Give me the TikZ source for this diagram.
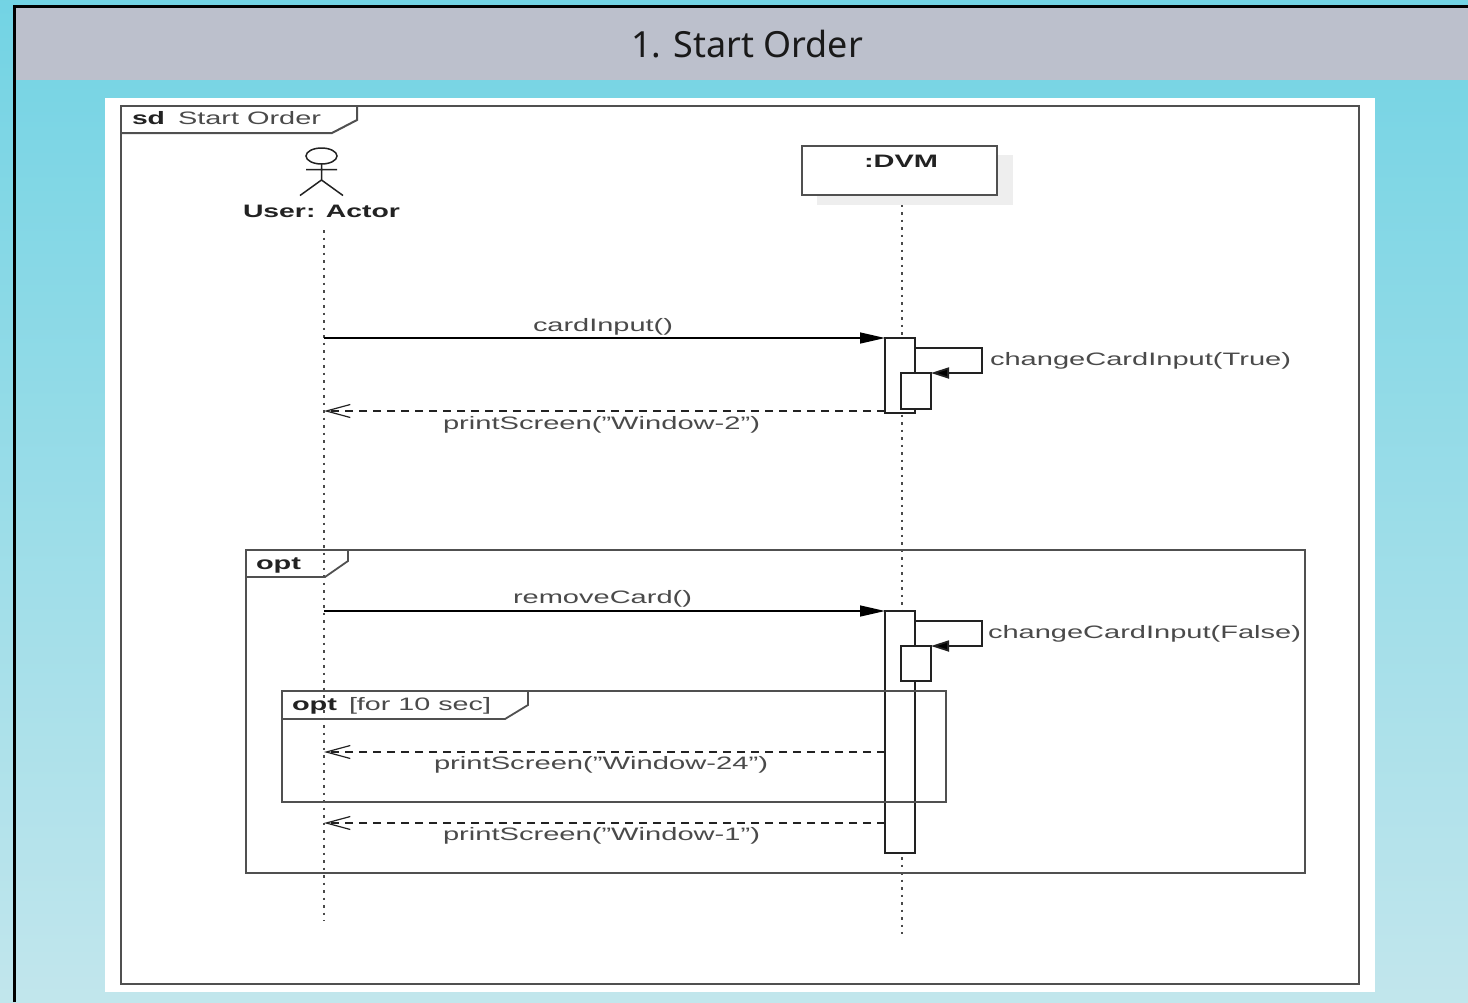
\documentclass[tikz,border=0pt]{standalone}
\usepackage{graphicx}
\usepackage{fontspec}
\setmainfont{Liberation Sans}
\newfontfamily\titlefont{Noto Sans}
\usetikzlibrary{arrows.meta}
\definecolor{bgtop}{HTML}{4BCADF}
\definecolor{bgbot}{HTML}{E9EFF1}
\definecolor{hdr}{HTML}{BCC0CC}
\definecolor{ink}{HTML}{4A4A4A}
\definecolor{inkd}{HTML}{222222}
\definecolor{fr}{HTML}{505050}
\definecolor{shad}{HTML}{EEEEEE}
\pgfdeclareverticalshading{bgramp}{100bp}{color(0bp)=(bgbot); color(100bp)=(bgtop)}
\newcommand\fitw[2]{\resizebox{#1pt}{\height}{#2}}
\newcommand\lbl{\fontsize{18}{20}\selectfont\color{ink}}
\newcommand\lblb{\fontsize{18}{20}\selectfont\bfseries\color{inkd}}
\tikzset{
  txt/.style={anchor=base west,inner sep=0pt,outer sep=0pt},
  box/.style={draw=fr,line width=#1,anchor=north west,inner sep=0pt,outer sep=0pt,fill=none},
  act/.style={draw=inkd,line width=1.8pt,fill=white,anchor=north west,inner sep=0pt,outer sep=0pt},
  life/.style={draw=ink,line width=2.6pt,dash pattern=on 2.6pt off 4.9pt},
  sync/.style={draw=black,line width=1.4pt,-{Triangle[length=25pt,width=11pt,fill=black]}},
  selfc/.style={draw=inkd,line width=1.8pt,-{Triangle[length=18pt,width=11pt,fill=black]}},
  ret/.style={draw=inkd,line width=1.4pt,dash pattern=on 8pt off 6pt,-{Straight Barb[length=24pt,width=13pt,line width=1.2pt,sep=0pt]}},
}
\begin{document}
\begin{tikzpicture}[x=1pt,y=-1pt]
\useasboundingbox (0,0) rectangle (1468,1002);
% slide background
\path[shading=bgramp,shading angle=0] (0,0) rectangle (1468,1002);
\fill[hdr] (15,7) rectangle (1468,80);
\draw[black,line width=3pt] (14.5,1002) -- (14.5,6.5) -- (1468,6.5);
\node[txt,text=black!90] (title) at (631,57) {\fitw{232}{\fontsize{36}{40}\selectfont\titlefont\bfseries 1. Start Order}};
% white sheet
\fill[white] (105,98) rectangle (1375,992);
% lifelines
\node[draw=none,inner sep=0pt,anchor=center] (actorhead) at (321.5,156) {};
\coordinate (uTop) at (324,230);
\coordinate (uEnd) at (324,921);
\coordinate (dTop) at (902,197);
\coordinate (dEnd) at (902,934);
\draw[life] (uTop) -- (uEnd);
\draw[life] (dTop) -- (dEnd);
% outer frame
\node[box=2.2pt,minimum width=1238pt,minimum height=878pt] (sd) at (121,106) {};
\draw[draw=fr,line width=2pt] (357,106) -- (357,120) -- (332,133) -- (121,133);
\node[txt] (sdk) at (132,124) {\fitw{33}{\lblb sd}};
\node[txt] (sdn) at (178,124) {\fitw{143}{\lbl Start Order}};
% actor
\draw[draw=inkd,line width=1.5pt] (321.5,156) ellipse [x radius=15.5pt,y radius=8pt];
\draw[draw=inkd,line width=1.5pt] (321.5,164) -- (321.5,180) (306,169.5) -- (337,169.5) (300,195.5) -- (321.5,180) -- (343,195.5);
\node[txt] (actor) at (243,217) {\fitw{157}{\lblb User: Actor}};
% DVM box
\fill[shad] (817,155) rectangle (1013,205);
\node[draw=fr,line width=1.8pt,fill=white,anchor=north west,inner sep=0pt,outer sep=0pt,minimum width=195pt,minimum height=49pt] (dvm) at (802,146) {};
\node[txt] (dvml) at (864,167) {\fitw{74}{\lblb :DVM}};
% opt frames
\node[box=1.8pt,minimum width=1059pt,minimum height=323pt] (opt1) at (246,550) {};
\draw[draw=fr,line width=1.8pt] (348,550) -- (348,561) -- (325,577) -- (246,577);
\node[txt] (opt1l) at (256,569) {\fitw{45}{\lblb opt}};
% activations, first block
\node[act,minimum width=30pt,minimum height=75pt] (a1) at (885,338) {};
\node[act,minimum width=30pt,minimum height=36pt] (b1) at (901,373) {};
\coordinate (u1) at (324,338);
\coordinate (u2) at (324,411);
\coordinate (l1a) at (915,348);
\coordinate (l1b) at (982,348);
\coordinate (l1c) at (982,373);
\coordinate (a1r) at (885,411);
\draw[sync] (u1) -- (a1.north west);
\draw[selfc] (l1a) -- (l1b) -- (l1c) -- (b1.north east);
\draw[ret] (a1r) -- (u2);
\node[txt] (m1) at (533,331) {\fitw{140}{\lbl cardInput()}};
\node[txt] (m2) at (990,365) {\fitw{301}{\lbl changeCardInput(True)}};
\node[txt] (m3) at (443,429) {\fitw{317}{\lbl printScreen("Window-2")}};
% second block
\node[act,minimum width=30pt,minimum height=242pt] (a2) at (885,611) {};
\node[act,minimum width=30pt,minimum height=35pt] (b2) at (901,646) {};
\coordinate (u3) at (324,611);
\coordinate (u4) at (324,752);
\coordinate (u5) at (324,823);
\coordinate (l2a) at (915,621);
\coordinate (l2b) at (982,621);
\coordinate (l2c) at (982,646);
\coordinate (a2r1) at (885,752);
\coordinate (a2r2) at (885,823);
\draw[sync] (u3) -- (a2.north west);
\draw[selfc] (l2a) -- (l2b) -- (l2c) -- (b2.north east);
\draw[ret] (a2r1) -- (u4);
\draw[ret] (a2r2) -- (u5);
\node[txt] (m4) at (513,603) {\fitw{179}{\lbl removeCard()}};
\node[txt] (m5) at (988,638) {\fitw{313}{\lbl changeCardInput(False)}};
\node[txt] (m6) at (434,769) {\fitw{334}{\lbl printScreen("Window-24")}};
\node[txt] (m7) at (443,840) {\fitw{317}{\lbl printScreen("Window-1")}};
% inner opt frame
\node[box=1.8pt,minimum width=664pt,minimum height=111pt] (opt2) at (282,691) {};
\draw[draw=fr,line width=1.8pt] (528,691) -- (528,705) -- (505,719) -- (282,719);
\node[txt] (opt2l) at (292,710) {\fitw{45}{\lblb opt}};
\node[txt] (opt2g) at (349,710) {\fitw{142}{\lbl [for 10 sec]}};
\end{tikzpicture}
\end{document}
